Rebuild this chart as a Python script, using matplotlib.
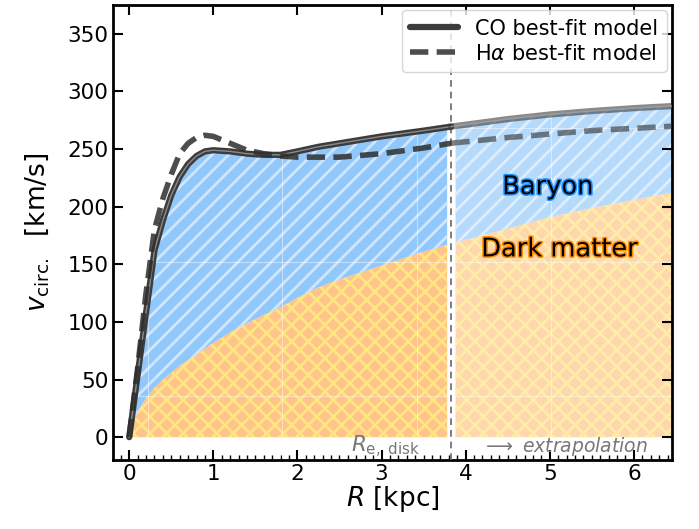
import numpy as np
import matplotlib
matplotlib.use('Agg')
import matplotlib.pyplot as plt
import matplotlib.patheffects as pe
from matplotlib.ticker import MultipleLocator


# DATA
R_kpc = np.array([0, 0.05, 0.1, 0.2, 0.3, 0.4, 0.5, 0.6, 0.7, 0.8, 0.9, 1.0, 1.2, 1.4, 1.6,
                  1.8, 2.0, 2.25, 2.5, 3.0, 3.5, 3.78, 3.83, 3.88, 4.5, 5.0, 5.5, 6.0, 6.5])
v_CO = np.array([0, 27, 54, 108, 162, 188, 210, 226, 237, 244, 248, 249, 248, 246, 245,
                 245, 248, 252, 255, 261, 266, 269, 269.5, 270, 276, 280, 283, 285.5, 287.5])
v_Ha = np.array([0, 30, 60, 125, 180, 207, 228, 246, 255, 260, 262, 261, 255, 249, 246,
                 244, 243, 243, 243, 246, 251, 254.5, 255, 255.5, 260, 263, 266, 268, 270])
v_DM = np.array([0, 12, 22, 34, 43, 50, 56, 62, 67, 72, 77, 82, 91, 99, 106,
                 113, 121, 130, 137, 149, 161, 167, 168, 169, 181, 191, 199, 206, 213])
R_e_disk = 3.83

plt.rcParams['hatch.linewidth'] = 2.0

fig = plt.figure(figsize=(6.99, 5.29), dpi=100)
ax = fig.add_axes([0.162, 0.130, 0.799, 0.8605])

inner = R_kpc <= 3.78
outer = R_kpc >= 3.88
lin = R_kpc <= R_e_disk
lout = R_kpc >= R_e_disk

# dark matter + baryon fills, inside R_e
ax.fill_between(R_kpc[inner], 0, v_DM[inner], facecolor='#ffc38c', edgecolor='#ffe680',
                hatch='xx', linewidth=0)
ax.fill_between(R_kpc[inner], v_DM[inner], v_CO[inner], facecolor='#91c8fb', edgecolor='#cfe6fd',
                hatch='//', linewidth=0)
# extrapolation (lighter)
ax.fill_between(R_kpc[outer], 0, v_DM[outer], facecolor='#ffd7ae', edgecolor='#ffeca8',
                hatch='xx', linewidth=0)
ax.fill_between(R_kpc[outer], v_DM[outer], v_CO[outer], facecolor='#b5dafc', edgecolor='#deeefe',
                hatch='//', linewidth=0)

# faint seams visible through the fills
for gx in [0.22, 1.82, 3.42, 5.02]:
    ax.axvline(gx, color='white', lw=0.8, alpha=0.45, zorder=2)
for gy in [36, 152, 268]:
    ax.axhline(gy, color='white', lw=0.8, alpha=0.45, zorder=2)

# model curves
ax.plot(R_kpc[lin], v_CO[lin], color='#3c3c3c', lw=4.5, solid_capstyle='round', zorder=4,
        label='CO best-fit model')
ax.plot(R_kpc[lin], v_CO[lin], color='#8a8a8a', lw=1.0, zorder=4)
ax.plot(R_kpc[lout], v_CO[lout], color='#3c3c3c', lw=4.5, alpha=0.6, zorder=4)
ax.plot(R_kpc[lout], v_CO[lout], color='#aaaaaa', lw=1.0, alpha=0.7, zorder=4)

dash = (0, (3.3, 1.5))
ax.plot(R_kpc[lin], v_Ha[lin], color='#2e2e2e', lw=4.0, ls=dash, alpha=0.85,
        zorder=5, label=r'H$\alpha$ best-fit model')
ax.plot(R_kpc[lout], v_Ha[lout], color='#2e2e2e', lw=4.0, ls=dash, alpha=0.6,
        zorder=5)

ax.axvline(R_e_disk, color='#666666', lw=1.2, ls=(0, (4, 3)), zorder=3)

# labels inside the plot
ax.text(4.98, 217, 'Baryon', fontsize=18.5, ha='center', va='center', color='black', zorder=6,
        path_effects=[pe.withStroke(linewidth=2.2, foreground='#1e90ff')])
ax.text(5.12, 163, 'Dark matter', fontsize=18.5, ha='center', va='center', color='black', zorder=6,
        path_effects=[pe.withStroke(linewidth=2.2, foreground='#ff8c00')])
ax.text(3.46, -8, r'$R_{\rm e,\ disk}$', fontsize=15.5, ha='right', va='center', color='#777777')
ax.text(4.2, -8, r'$\longrightarrow$ extrapolation', fontsize=13.5, ha='left', va='center',
        color='#777777', style='italic')

ax.set_xlim(-0.19, 6.45)
ax.set_ylim(-20, 375)
ax.xaxis.set_major_locator(MultipleLocator(1))
ax.xaxis.set_minor_locator(MultipleLocator(0.1))
ax.yaxis.set_major_locator(MultipleLocator(50))
ax.tick_params(which='major', direction='in', length=7, width=1.5, labelsize=15.5,
               top=True, right=True)
ax.tick_params(axis='x', which='major', pad=2.5)
ax.tick_params(which='minor', direction='in', length=3.5, width=1.0, top=False, right=False)
for s in ax.spines.values():
    s.set_linewidth(2.0)

ax.set_xlabel(r'$R$ [kpc]', fontsize=19, labelpad=0)
ax.set_ylabel(r'$v_{\rm circ.}$  [km/s]', fontsize=19, labelpad=12)

leg = ax.legend(loc='upper right', fontsize=15, handlelength=2.3, borderaxespad=0.25,
                handletextpad=0.8, labelspacing=0.25, borderpad=0.4)
leg.get_frame().set_edgecolor('#cccccc')
leg.set_zorder(10)

fig.savefig('out.png', dpi=100)
